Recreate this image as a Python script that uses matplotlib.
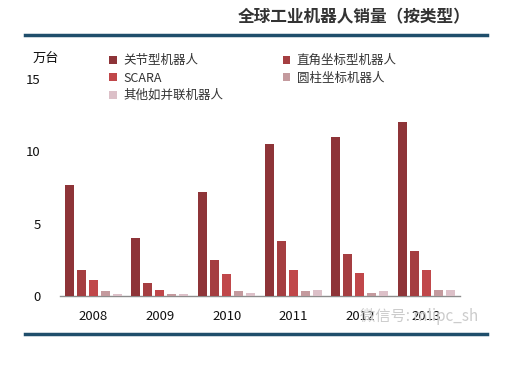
import numpy as np
import matplotlib
matplotlib.use('Agg')
from matplotlib import pyplot as plt
from matplotlib.lines import Line2D

plt.rcParams['font.family'] = ['Noto Sans CJK SC', 'DejaVu Sans']

# -----------------------------
# 数据（万台）
# -----------------------------
years = ['2008', '2009', '2010', '2011', '2012', '2013']
series_names = ['关节型机器人', '直角坐标型机器人', 'SCARA', '圆柱坐标机器人', '其他如并联机器人']
articulated = [7.7, 4.0, 7.2, 10.5, 11.0, 12.0]
cartesian = [1.8, 0.95, 2.5, 3.8, 2.95, 3.15]
scara = [1.15, 0.45, 1.55, 1.8, 1.6, 1.8]
cylindrical = [0.4, 0.2, 0.4, 0.4, 0.25, 0.45]
others = [0.17, 0.17, 0.25, 0.45, 0.4, 0.45]
colors = ['#8E3438', '#A53E41', '#C0474A', '#C49A9E', '#DCC0C8']

values = [articulated, cartesian, scara, cylindrical, others]

fig = plt.figure(figsize=(5.2, 3.65), dpi=100)
ax = fig.add_axes([0.1154, 0.1877, 0.769, 0.596])

x = np.arange(len(years))
pitch = 0.18
width = 0.135
bars = []
for i, (name, vals, c) in enumerate(zip(series_names, values, colors)):
    b = ax.bar(x + (i - 2) * pitch, vals, width, color=c, label=name, zorder=3)
    bars.append(b)

ax.set_xlim(-0.5, 5.5)
ax.set_ylim(0, 15)
ax.set_yticks([0, 5, 10, 15])
ax.set_xticks(x)
ax.set_xticklabels(years)
ax.tick_params(axis='both', length=0, labelsize=9.5, colors='#111111')
ax.tick_params(axis='y', pad=14)
ax.tick_params(axis='x', pad=10)
for s in ['top', 'right', 'left']:
    ax.spines[s].set_visible(False)
ax.spines['bottom'].set_color('#8c8c8c')
ax.spines['bottom'].set_linewidth(1.0)

# 图例：两列
order = [0, 2, 4, 1, 3]
leg = ax.legend([bars[i] for i in order], [series_names[i] for i in order],
                ncol=2, loc='upper left', bbox_to_anchor=(0.095, 1.165),
                frameon=False, fontsize=9, handlelength=0.6, handleheight=0.6,
                handletextpad=0.5, columnspacing=4.8, labelspacing=0.35)
for t in leg.get_texts():
    t.set_color('#333333')

fig.text(0.062, 0.84, '万台', fontsize=9.5, color='#111111', va='center')

# 标题与分隔线
fig.text(0.905, 0.952, '全球工业机器人销量（按类型）', fontsize=12, fontweight='bold',
         color='#333333', ha='right', va='center')
fig.add_artist(Line2D([0.048, 0.937], [0.904, 0.904], color='#1F4E6B', lw=2.5))
fig.add_artist(Line2D([0.048, 0.937], [0.0863, 0.0863], color='#1F4E6B', lw=2.5))

# 水印
fig.text(0.92, 0.132, '微信号: mlipc_sh', fontsize=11, color='#cccccc',
         ha='right', va='center', zorder=5)

plt.savefig('out.png', dpi=100, facecolor='white')
